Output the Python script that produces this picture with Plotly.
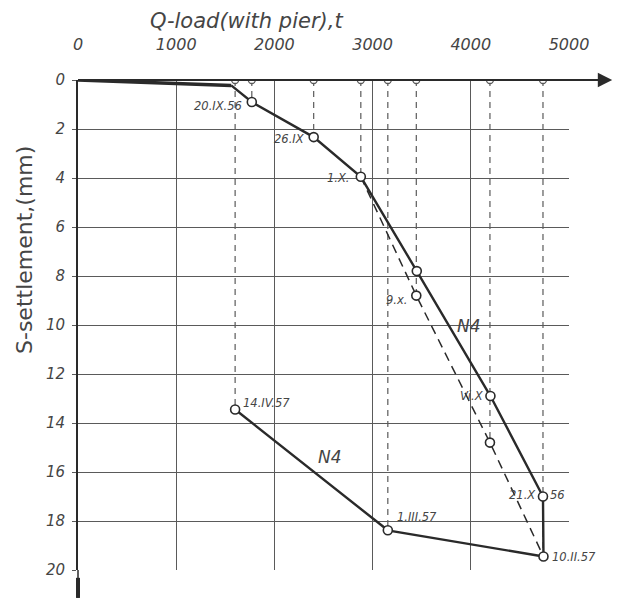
import plotly.graph_objects as go

# ---- data ----
load_solid = [0, 1560, 1770, 2400, 2880, 3450, 4200, 4735, 4740, 3155, 1600]
settle_solid = [0, 0.22, 0.9, 2.33, 3.95, 7.8, 12.9, 17.0, 19.45, 18.38, 13.45]
load_dashed = [2880, 3445, 4195, 4740]
settle_dashed = [3.95, 8.8, 14.8, 19.45]

# projection lines (load, settlement at lower end)
proj_load = [1600, 1770, 2400, 2880, 3155, 3445, 4195, 4735]
proj_settle = [13.45, 0.9, 2.33, 3.95, 18.38, 8.8, 14.8, 19.45]

# dated labels
date_labels = ["20.IX.56", "26.IX", "1.X.", "9.x.", "Vi.X", "21.X", "56", "10.II.57", "1.III.57", "14.IV.57"]
date_load = [1770, 2400, 2880, 3445, 4200, 4735, 4735, 4740, 3155, 1600]
date_settle = [0.9, 2.33, 3.95, 8.8, 12.9, 17.0, 17.0, 19.45, 18.38, 13.45]

x_ticks = [0, 1000, 2000, 3000, 4000, 5000]
y_ticks = [0, 2, 4, 6, 8, 10, 12, 14, 16, 18, 20]

INK = "#2a2a2a"
GRID = "#5a5a5a"
TXT = "#454545"
FONT = "DejaVu Sans"

# page body adds an 8px offset; compensate in figure size/margins
OFF = 8
W, H = 623 - OFF, 598 - OFF
L, T = 78 - OFF, 80 - OFF
PW, PH = 491, 490

fig = go.Figure()

# vertical dashed projection lines
px, py = [], []
for xv, yv in zip(proj_load, proj_settle):
    px += [xv, xv, None]
    py += [0, yv, None]
fig.add_trace(go.Scatter(x=px, y=py, mode="lines",
                         line=dict(color=GRID, width=1.2, dash="6px,5px"),
                         hoverinfo="skip", showlegend=False))
# small circles on the load axis
fig.add_trace(go.Scatter(x=proj_load, y=[0] * len(proj_load), mode="markers",
                         marker=dict(symbol="circle", size=7, color="white",
                                     line=dict(color=GRID, width=1.3)),
                         hoverinfo="skip", showlegend=False))

# dashed curve
fig.add_trace(go.Scatter(x=load_dashed, y=settle_dashed, mode="lines",
                         line=dict(color=INK, width=1.5, dash="9px,6px"),
                         showlegend=False))
# initial thick segment
fig.add_trace(go.Scatter(x=load_solid[:2], y=settle_solid[:2], mode="lines",
                         line=dict(color=INK, width=3.5), showlegend=False))
# solid curve
fig.add_trace(go.Scatter(x=load_solid[1:], y=settle_solid[1:], mode="lines",
                         line=dict(color=INK, width=2.4), showlegend=False))
# markers
fig.add_trace(go.Scatter(x=load_solid[2:], y=settle_solid[2:], mode="markers",
                         marker=dict(symbol="circle", size=9, color="white",
                                     line=dict(color=INK, width=1.6)),
                         showlegend=False))
fig.add_trace(go.Scatter(x=load_dashed[1:3], y=settle_dashed[1:3], mode="markers",
                         marker=dict(symbol="circle", size=9, color="white",
                                     line=dict(color=INK, width=1.6)),
                         showlegend=False))

# label placement (pixel offsets)
shifts = [(-8, -4, "right"), (-7, -2, "right"), (-9, -1, "right"), (-7, -4, "right"),
          (-4, 0, "right"), (-5, 2, "right"), (5, 2, "left"), (7, 0, "left"),
          (7, 13, "left"), (6, 7, "left")]
for t, xv, yv, (dx, dy, anc) in zip(date_labels, date_load, date_settle, shifts):
    fig.add_annotation(x=xv, y=yv, text=t, showarrow=False, xanchor=anc,
                       yanchor="middle", xshift=dx, yshift=dy,
                       font=dict(family=FONT, size=11.5, color=TXT, style="italic"))

# N4 labels
for xv, yv in [(3985, 10.05), (2570, 15.4)]:
    fig.add_annotation(x=xv, y=yv, text="N4", showarrow=False,
                       xanchor="center", yanchor="middle",
                       font=dict(family=FONT, size=17, color=TXT, style="italic"))

# left axis extension below 20 and top axis arrow (paper coords)
fig.add_shape(type="line", xref="paper", yref="paper", x0=0, x1=0, y0=0, y1=-0.057,
              line=dict(color=INK, width=1.5))
fig.add_shape(type="line", xref="paper", yref="paper", x0=0, x1=0, y0=-0.016, y1=-0.057,
              line=dict(color=INK, width=4))
fig.add_shape(type="line", xref="paper", yref="paper", x0=0, x1=1.06, y0=1, y1=1,
              line=dict(color=INK, width=1.8))
fig.add_annotation(xref="paper", yref="paper", x=1.088, y=1, ax=-30, ay=0,
                   showarrow=True, arrowhead=2, arrowsize=1.6, arrowwidth=1.8,
                   arrowcolor=INK, text="")

# axis titles as annotations (page pixel targets converted to paper)
fig.add_annotation(xref="paper", yref="paper", x=(246 - 78) / PW, y=1 + (80 - 21) / PH,
                   xanchor="center", yanchor="middle",
                   text="Q-load(with pier),t", showarrow=False,
                   font=dict(family=FONT, size=21, color=TXT, style="italic"))
fig.add_annotation(xref="paper", yref="paper", x=(25 - 78) / PW, y=1 - (250 - 80) / PH,
                   xanchor="center", yanchor="middle",
                   text="S-settlement,(mm)", textangle=-90, showarrow=False,
                   font=dict(family=FONT, size=22, color=TXT))

fig.update_xaxes(range=[0, 5000], side="top", tickvals=x_ticks,
                 ticktext=[str(v) for v in x_ticks],
                 showgrid=True, gridcolor=GRID, gridwidth=1.2,
                 showline=False, zeroline=False, ticks="", ticklabelstandoff=26,
                 tickfont=dict(family=FONT, size=16, color=TXT, style="italic"))
fig.update_yaxes(range=[20, 0], tickvals=y_ticks,
                 ticktext=[str(v) for v in y_ticks],
                 showgrid=True, gridcolor=GRID, gridwidth=1.2,
                 showline=True, linecolor=INK, linewidth=1.8, zeroline=False,
                 ticks="outside", ticklen=4, tickcolor=GRID, ticklabelstandoff=4,
                 tickfont=dict(family=FONT, size=15, color=TXT, style="italic"))

fig.update_layout(
    width=W, height=H,
    margin=dict(l=L, r=W - L - PW, t=T, b=H - T - PH, autoexpand=False),
    plot_bgcolor="white", paper_bgcolor="white",
    showlegend=False,
)

fig.write_html("out.html")
